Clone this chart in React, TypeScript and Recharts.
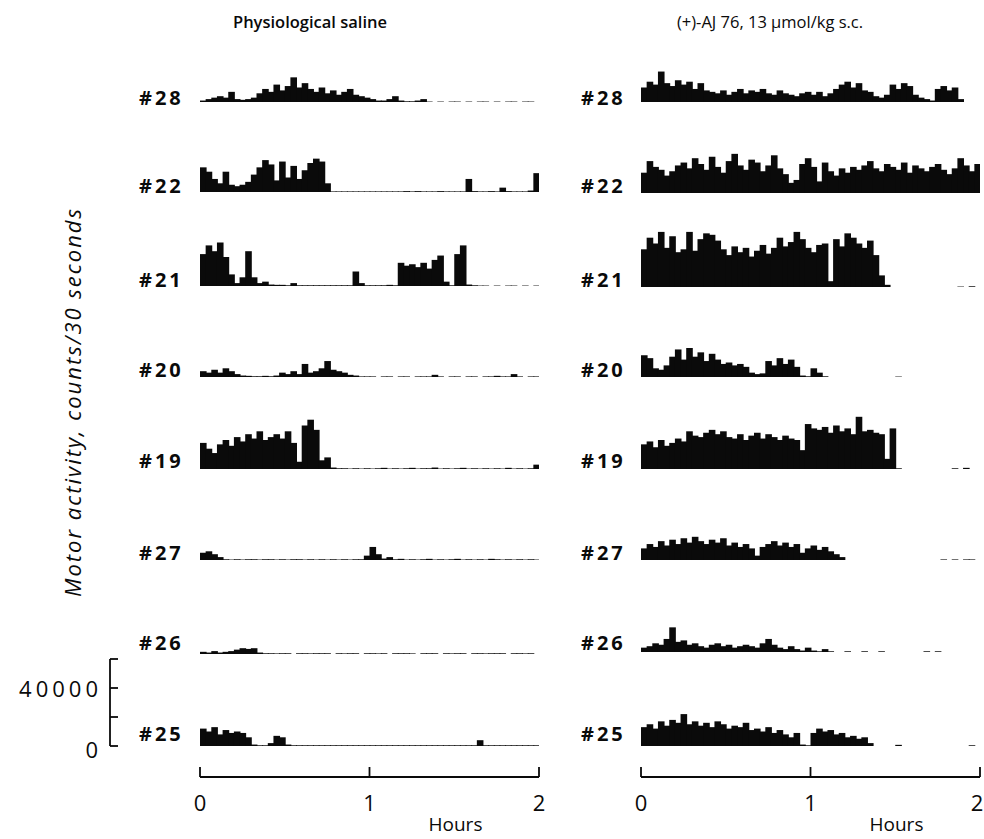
import React from 'react';
import { BarChart, Bar, XAxis, YAxis, LineChart, Line } from 'recharts';

// 2-minute bins over 2 hours (minutes from start)
const MINUTES: number[] = Array.from({ length: 60 }, (_, i) => i * 2);

const RATS = ['#28', '#22', '#21', '#20', '#19', '#27', '#26', '#25'];
const COLUMN_TITLES = ['Physiological saline', '(+)-AJ 76, 13 \u00B5mol/kg s.c.'];
const Y_LABEL = 'Motor activity, counts/30 seconds';
const SCALE_TICKS = [0, 20, 40, 60]; // thousands of counts
const HOUR_TICKS = [0, 1, 2];

// values: thousands of counts / 30 s (2-min bins)
const saline28 = [1, 2, 3, 4, 3, 7, 2, 1.5, 2, 3, 6, 9, 7, 12, 8, 11, 17, 10, 13, 9, 7, 10, 6, 8, 5, 7, 9, 5, 4, 3, 2, 1, 1, 2, 4, 1, 0.5, 0.5, 1, 2, 0.3, 0, 0.3, 0, 0.3, 0.3, 0, 0.3, 0, 0.3, 0.3, 0, 0.3, 0, 0.3, 0.3, 0, 0.3, 0.3, 0];
const drug28 = [10, 14, 12, 21, 13, 11, 15, 12, 14, 9, 13, 8, 7, 6, 8, 5, 7, 9, 6, 8, 7, 9, 6, 5, 8, 6, 5, 4, 6, 7, 5, 7, 4, 6, 9, 12, 14, 10, 13, 8, 7, 4, 3, 5, 12, 9, 13, 11, 5, 3, 2, 1, 9, 11, 8, 10, 2, 0, 0, 0];
const saline22 = [17, 14, 9, 6, 14, 5, 4, 5, 7, 12, 17, 22, 19, 8, 21, 10, 18, 9, 15, 20, 23, 21, 6, 0.4, 0.4, 0.4, 0.4, 0.4, 0.4, 0.4, 0.4, 0.4, 0.4, 0.4, 0.4, 0.4, 0.6, 0.4, 0.6, 0.4, 0.4, 0.4, 0.6, 0.4, 0.4, 0.4, 0.4, 9, 0.6, 0.4, 0.4, 0.6, 0.4, 3, 0.6, 0.4, 0.4, 0.4, 1, 13];
const drug22 = [14, 22, 18, 16, 12, 15, 19, 21, 17, 24, 20, 16, 25, 18, 14, 22, 27, 19, 16, 23, 21, 15, 19, 26, 17, 13, 7, 9, 20, 24, 18, 8, 21, 15, 12, 17, 14, 18, 16, 19, 22, 17, 15, 20, 18, 16, 21, 14, 19, 17, 15, 18, 20, 16, 13, 17, 24, 19, 15, 20];
const saline21 = [22, 28, 24, 30, 20, 8, 2, 6, 24, 6, 2, 3, 1, 0.8, 0.8, 0.5, 2, 0.5, 0.5, 0.5, 0.5, 0.5, 0.5, 0.5, 0.5, 0.5, 0.5, 10, 2, 0.5, 0.5, 0.5, 0.5, 0.8, 0.5, 16, 14, 15, 13, 16, 12, 18, 21, 3, 0.5, 22, 28, 1, 0.5, 0.3, 0.3, 0, 0.3, 0, 0.3, 0.3, 0, 0.3, 0, 0.3];
const drug21 = [26, 34, 30, 38, 27, 35, 24, 26, 38, 25, 33, 37, 36, 32, 26, 22, 28, 24, 27, 21, 25, 29, 23, 27, 34, 28, 31, 38, 33, 27, 24, 29, 30, 4, 33, 28, 37, 34, 30, 27, 32, 22, 8, 1.5, 0, 0, 0, 0, 0, 0, 0, 0, 0, 0, 0, 0, 0.3, 0, 0.5, 0];
const saline20 = [4, 3, 5, 3, 6, 4, 2, 1, 0.8, 0.5, 0.5, 0.8, 0.5, 1, 3, 2, 4, 2, 9, 3, 4, 6, 11, 5, 4, 3, 1.5, 1, 0.4, 0.4, 0.4, 0, 0.4, 0.4, 0, 0.4, 0.4, 0, 0.4, 0.4, 0.4, 1.5, 0.4, 0, 0.4, 0.4, 0, 0.4, 0.4, 0, 0.4, 0.4, 0.8, 0.4, 0.4, 2, 0.4, 0, 0.4, 0.4];
const drug20 = [15, 13, 6, 5, 8, 14, 19, 12, 20, 14, 17, 11, 16, 12, 9, 10, 8, 9, 7, 3, 2, 2.5, 11, 8, 13, 9, 12, 7, 1, 0.5, 6, 3, 0.5, 0, 0, 0, 0, 0, 0, 0, 0, 0, 0, 0, 0, 0.3, 0, 0, 0, 0, 0, 0, 0, 0, 0, 0, 0, 0, 0, 0];
const saline19 = [18, 14, 11, 17, 20, 16, 22, 19, 24, 21, 26, 20, 22, 24, 21, 26, 18, 5, 30, 34, 27, 6, 8, 1, 0.5, 0.5, 0.3, 0.5, 0.3, 0.5, 0.3, 0.5, 0.8, 0.3, 0.5, 0.3, 0.5, 0.8, 0.3, 0.5, 0.5, 1, 0.3, 0.5, 0.3, 0.5, 0.8, 0.3, 0.5, 0.3, 0.5, 0.3, 0.5, 0.3, 0.8, 0.3, 0.5, 0.3, 0.5, 3];
const drug19 = [17, 19, 15, 20, 16, 18, 21, 19, 26, 23, 22, 25, 27, 24, 26, 22, 21, 24, 20, 23, 25, 21, 24, 22, 20, 23, 21, 20, 13, 31, 28, 27, 29, 25, 30, 26, 28, 24, 36, 26, 27, 25, 24, 7, 28, 0.5, 0, 0, 0, 0, 0, 0, 0, 0, 0, 0.5, 0, 0.8, 0, 0];
const saline27 = [5, 6, 4, 2, 0.5, 0.3, 0.5, 0.3, 0.5, 0.5, 0.3, 0.5, 0.5, 0.3, 0.5, 0.3, 0.5, 0.5, 0.3, 0.5, 0.3, 0.5, 0.3, 0.5, 0.3, 0.5, 0.3, 0.5, 0.5, 3, 9, 4, 1, 2, 0.5, 0.8, 0.3, 0.5, 0.3, 0.5, 0.8, 0.3, 0.5, 0.3, 0.5, 0.8, 0.3, 0.5, 0.3, 0.5, 0.3, 0.8, 0.5, 0.3, 0.5, 0.3, 0.5, 0.3, 0.5, 0.3];
const drug27 = [8, 11, 9, 13, 10, 14, 11, 15, 12, 16, 13, 11, 14, 12, 15, 10, 12, 9, 11, 8, 3, 9, 11, 13, 10, 12, 9, 11, 5, 8, 10, 7, 9, 6, 4, 2, 0, 0, 0, 0, 0, 0, 0, 0, 0, 0, 0, 0, 0, 0, 0, 0, 0, 0.4, 0, 0.4, 0, 0.4, 0.4, 0];
const saline26 = [1.5, 1, 2, 1, 1.5, 2, 3, 4, 3.5, 4, 1, 0.5, 0.5, 0.4, 0.5, 0.5, 0, 0.5, 0.5, 0.4, 0.5, 0.5, 0.5, 0, 0.5, 0.4, 0.5, 0.5, 0, 0.5, 0.5, 0.4, 0.5, 0, 0.5, 0.5, 0.5, 0.4, 0, 0.5, 0.5, 0.5, 0, 0.5, 0.4, 0.5, 0.5, 0, 0.5, 0.5, 0.4, 0.5, 0.5, 0.5, 0, 0.5, 0.5, 0.4, 0.5, 0];
const drug26 = [3, 4, 6, 5, 9, 17, 7, 8, 5, 6, 4, 3, 5, 6, 4, 5, 3, 4, 5, 4, 3, 6, 9, 5, 3, 2, 4, 2, 1, 3, 1, 0.5, 2, 0.5, 0, 0, 0.5, 0, 0, 0.5, 0, 0, 0.5, 0, 0, 0, 0, 0, 0, 0, 0.5, 0, 0.5, 0, 0, 0, 0, 0, 0, 0];
const saline25 = [12, 10, 13, 8, 11, 9, 10, 9, 6, 1, 0.5, 0.5, 2, 7, 6, 1, 0.5, 0.5, 0.5, 0.5, 0.5, 0.5, 0.5, 0.5, 0.5, 0.5, 0.5, 0.5, 0.5, 0.5, 0.5, 0.5, 0.5, 0.5, 0.5, 0.5, 0.5, 0.5, 0.5, 0.5, 0.5, 0.5, 0.5, 0.5, 0.5, 0.5, 0.5, 0.5, 0.5, 4, 0.5, 0.5, 0.5, 0.5, 0.5, 0.5, 0.5, 0.5, 0.5, 0.5];
const drug25 = [13, 15, 12, 17, 14, 18, 16, 22, 15, 17, 14, 16, 13, 17, 15, 12, 14, 13, 16, 11, 12, 10, 13, 9, 11, 8, 6, 9, 1, 0.5, 9, 12, 10, 11, 8, 9, 6, 7, 5, 6, 2, 0, 0, 0, 0, 0.8, 0, 0, 0, 0, 0, 0, 0, 0, 0, 0, 0, 0, 0.5, 0];

const SALINE = [saline28, saline22, saline21, saline20, saline19, saline27, saline26, saline25];
const DRUG = [drug28, drug22, drug21, drug20, drug19, drug27, drug26, drug25];

// layout
const LEFT_X = 200;
const RIGHT_X = 641;
const PANEL_W = 339;
const PLOT_H = 87; // 60 000 counts
const LEFT_BASE = [102, 192, 286, 377, 469, 560, 654, 746];
const RIGHT_BASE = [102, 193, 287, 377, 469, 560, 652, 746];
const LABEL_Y = [97, 185, 279, 369, 460, 552, 642, 733];
const SCALE_X = 110;
const HOUR_AXIS_Y = 777;

const FONT = "'Open Sans', 'Liberation Sans', sans-serif";
const INK = '#0a0a0a';

const BinShape = (props: any) => {
  const { x, y, width, height } = props;
  if (!height || height <= 0) return <g />;
  return <rect x={x} y={y} width={width + 0.6} height={height} fill={INK} />;
};

function Panel({ values, left, base }: { values: number[]; left: number; base: number }) {
  const data = MINUTES.map((m, i) => ({ m, v: values[i] }));
  return (
    <div style={{ position: 'absolute', left, top: base - PLOT_H }}>
      <BarChart width={PANEL_W} height={PLOT_H} data={data} margin={{ top: 0, right: 0, bottom: 0, left: 0 }} barCategoryGap={0} barGap={0}>
        <XAxis dataKey="m" hide />
        <YAxis hide domain={[0, 60]} />
        <Bar dataKey="v" fill={INK} isAnimationActive={false} shape={BinShape} />
      </BarChart>
    </div>
  );
}

const ScaleTick = (props: any) => {
  const { x, y, payload } = props;
  const label = payload.value === 40 ? '40000' : payload.value === 0 ? '0' : '';
  return (
    <g>
      <line x1={x} y1={y} x2={x + 8} y2={y} stroke={INK} strokeWidth={1.8} />
      {label && (
        <text x={x - 8} y={y + (payload.value === 0 ? 3 : 0)} textAnchor="end" dominantBaseline="central" fontFamily={FONT} fontSize={22} letterSpacing={4} fill={INK}>
          {label}
        </text>
      )}
    </g>
  );
};

function makeHourTick(chartLeft: number) {
  return (props: any) => {
    const { x, y, payload } = props;
    const tx = Math.min(x, 977 - chartLeft);
    return (
      <g>
        <line x1={x} y1={y} x2={x} y2={y - 10} stroke={INK} strokeWidth={1.8} />
        <text x={tx} y={y + 25} textAnchor="middle" dominantBaseline="central" fontFamily={FONT} fontSize={22} fill={INK}>
          {String(payload.value)}
        </text>
      </g>
    );
  };
}

function HourAxis({ left }: { left: number }) {
  const data = [{ h: 0, v: 0 }, { h: 2, v: 0 }];
  const chartLeft = left - 10;
  return (
    <div style={{ position: 'absolute', left: chartLeft, top: HOUR_AXIS_Y - 10 }}>
      <LineChart width={PANEL_W + 20} height={71} data={data} margin={{ top: 0, right: 10, bottom: 0, left: 10 }}>
        <XAxis
          dataKey="h"
          type="number"
          domain={[0, 2]}
          ticks={HOUR_TICKS}
          interval={0}
          height={61}
          tickLine={false}
          tickSize={0}
          tickMargin={0}
          axisLine={{ stroke: INK, strokeWidth: 1.8 }}
          tick={makeHourTick(chartLeft)}
          label={{ value: 'Hours', position: 'insideBottom', offset: 7, dx: 86, fontFamily: FONT, fontSize: 19, fill: INK }}
        />
        <YAxis hide domain={[0, 1]} />
        <Line dataKey="v" stroke="none" dot={false} isAnimationActive={false} />
      </LineChart>
    </div>
  );
}

function ScaleBar() {
  const data = [{ m: 0, v: 0 }, { m: 1, v: 60 }];
  return (
    <div style={{ position: 'absolute', left: 0, top: 746 - PLOT_H - 10 }}>
      <LineChart width={130} height={PLOT_H + 30} data={data} margin={{ top: 10, right: 0, bottom: 20, left: 0 }}>
        <XAxis dataKey="m" hide />
        <YAxis
          type="number"
          width={SCALE_X}
          domain={[0, 60]}
          ticks={SCALE_TICKS}
          interval={0}
          tickLine={false}
          tickSize={0}
          tickMargin={0}
          axisLine={{ stroke: INK, strokeWidth: 1.8 }}
          tick={ScaleTick}
        />
        <Line dataKey="v" stroke="none" dot={false} isAnimationActive={false} />
      </LineChart>
    </div>
  );
}

export default function App() {
  return (
    <div style={{ position: 'absolute', left: 0, top: 0, width: 984, height: 839, background: '#fff', overflow: 'hidden' }}>
      <svg width={984} height={839} style={{ position: 'absolute', left: 0, top: 0 }}>
        <text x={310} y={21} textAnchor="middle" dominantBaseline="central" fontFamily={FONT} fontWeight={600} fontSize={16.5} fill={INK}>
          {COLUMN_TITLES[0]}
        </text>
        <text x={770} y={21} textAnchor="middle" dominantBaseline="central" fontFamily={FONT} fontWeight={500} fontSize={16.5} fill={INK}>
          {COLUMN_TITLES[1]}
        </text>
        <text
          x={72}
          y={402}
          transform="rotate(-90 72 402)"
          textAnchor="middle"
          dominantBaseline="central"
          fontFamily={FONT}
          fontStyle="italic"
          fontSize={22}
          letterSpacing={2}
          fill={INK}
        >
          {Y_LABEL}
        </text>
        {RATS.map((r, i) => (
          <g key={r}>
            <text x={139} y={LABEL_Y[i]} dominantBaseline="central" fontFamily={FONT} fontWeight={700} fontSize={20} letterSpacing={3} fill={INK}>
              {r}
            </text>
            <text x={581} y={LABEL_Y[i]} dominantBaseline="central" fontFamily={FONT} fontWeight={700} fontSize={20} letterSpacing={3} fill={INK}>
              {r}
            </text>
          </g>
        ))}
      </svg>
      {SALINE.map((vals, i) => (
        <Panel key={'s' + i} values={vals} left={LEFT_X} base={LEFT_BASE[i]} />
      ))}
      {DRUG.map((vals, i) => (
        <Panel key={'d' + i} values={vals} left={RIGHT_X} base={RIGHT_BASE[i]} />
      ))}
      <ScaleBar />
      <HourAxis left={LEFT_X} />
      <HourAxis left={RIGHT_X} />
    </div>
  );
}
